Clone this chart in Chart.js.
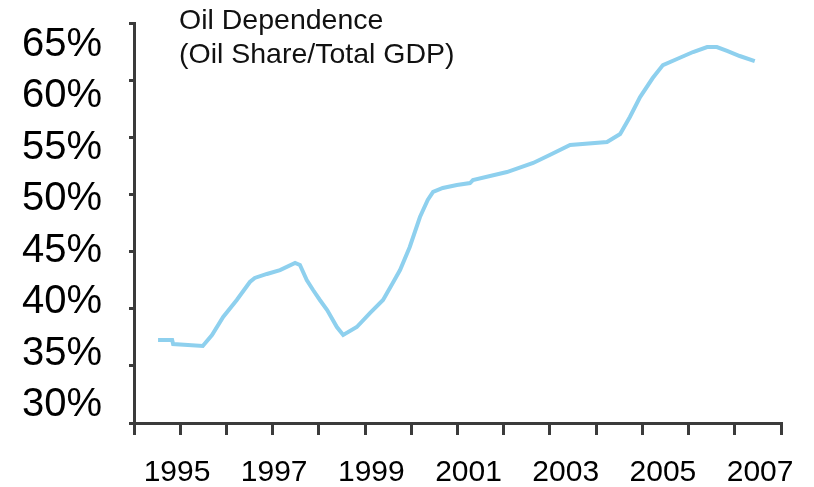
<!DOCTYPE html>
<html>
<head>
<meta charset="utf-8">
<script src="https://cdn.jsdelivr.net/npm/chart.js@4.4.1/dist/chart.umd.min.js"></script>
<style>
  html, body { margin: 0; padding: 0; background: #ffffff; }
  #wrap { width: 814px; height: 487px; }
</style>
</head>
<body>
<div id="wrap"><canvas id="chart"></canvas></div>
<script>
// Oil share of GDP, read along the labelled axes
const years = [1994.61, 1994.90, 1994.92, 1995.53, 1995.72, 1995.95, 1996.23, 1996.50, 1996.60, 1996.85,
  1997.12, 1997.43, 1997.53, 1997.67, 1997.80, 1997.94, 1998.09, 1998.29, 1998.42, 1998.70,
  1998.97, 1999.24, 1999.44, 1999.59, 1999.79, 2000.00, 2000.16, 2000.27, 2000.47, 2000.76,
  2001.03, 2001.09, 2001.79, 2002.33, 2002.67, 2003.09, 2003.85, 2004.12, 2004.32, 2004.53,
  2004.79, 2005.00, 2005.29, 2005.62, 2005.91, 2006.11, 2006.32, 2006.58, 2006.89];
const oilShare = [36.32, 36.32, 35.93, 35.74, 36.81, 38.56, 40.21, 41.96, 42.35, 42.74,
  43.12, 43.81, 43.61, 42.15, 41.18, 40.21, 39.24, 37.58, 36.81, 37.58,
  38.94, 40.21, 41.86, 43.12, 45.36, 48.28, 49.93, 50.71, 51.10, 51.39,
  51.58, 51.87, 52.65, 53.53, 54.31, 55.28, 55.57, 56.35, 58.00, 59.94,
  61.79, 63.05, 63.64, 64.32, 64.80, 64.80, 64.42, 63.93, 63.44];

// tick labels
const yTickLabels = [30, 35, 40, 45, 50, 55, 60, 65];
const xTickLabels = [1995, 1997, 1999, 2001, 2003, 2005, 2007];
// tick marks drawn along the axis lines
const yTickMarks = [30, 35, 40, 45, 50, 55, 60, 65];
const xTickMarks = [1994, 1995, 1996, 1997, 1998, 1999, 2000, 2001, 2002, 2003, 2004, 2005, 2006, 2007, 2008];

const titleLines = ['Oil Dependence', '(Oil Share/Total GDP)'];

const axisColor = '#3b3b3b';
const lineColor = '#8ed0ee';
const fontFamily = '"Liberation Sans", Arial, sans-serif';

const setTicks = values => scale => { scale.ticks = values.map(v => ({ value: v })); };

// fixed axis size, and no extra room reserved for the end labels
const fixSize = (key, size) => scale => {
  scale[key] = size;
  scale.paddingTop = 0;
  scale.paddingBottom = 0;
  scale.paddingLeft = 0;
  scale.paddingRight = 0;
};

const titleText = {
  id: 'titleText',
  afterDraw(chart) {
    const ctx = chart.ctx;
    ctx.save();
    ctx.font = '28.5px ' + fontFamily;
    ctx.fillStyle = '#111111';
    ctx.textAlign = 'left';
    ctx.textBaseline = 'middle';
    ctx.fillText(titleLines[0], 179, 21);
    ctx.fillText(titleLines[1], 179, 55);
    ctx.restore();
  }
};

new Chart(document.getElementById('chart'), {
  type: 'line',
  data: {
    datasets: [{
      data: years.map((x, i) => ({ x: x, y: oilShare[i] })),
      borderColor: lineColor,
      borderWidth: 4,
      pointRadius: 0,
      tension: 0,
      fill: false,
      xAxisID: 'x',
      yAxisID: 'y'
    }]
  },
  options: {
    responsive: true,
    maintainAspectRatio: false,
    animation: false,
    layout: { padding: { top: 23, right: 33, left: 0, bottom: 0 } },
    plugins: {
      legend: { display: false },
      tooltip: { enabled: false }
    },
    scales: {
      x: {
        type: 'linear',
        position: 'bottom',
        weight: 1,
        min: 1994.115,
        max: 2007.43,
        afterBuildTicks: setTicks(xTickLabels),
        afterFit: fixSize('height', 52),
        grid: { display: false, drawTicks: false },
        border: { display: false },
        ticks: {
          autoSkip: false,
          maxRotation: 0,
          padding: 20,
          color: '#000000',
          font: { family: fontFamily, size: 30 },
          callback: v => String(v)
        }
      },
      xt: {
        type: 'linear',
        position: 'bottom',
        weight: 0,
        min: 1994,
        max: 2008,
        afterBuildTicks: setTicks(xTickMarks),
        afterFit: fixSize('height', 12),
        grid: { drawOnChartArea: false, drawTicks: true, tickLength: 12, color: axisColor, lineWidth: 3 },
        border: { display: true, color: axisColor, width: 3 },
        ticks: { display: false }
      },
      y: {
        type: 'linear',
        position: 'left',
        weight: 1,
        min: 28.25,
        max: 67.14,
        afterBuildTicks: setTicks(yTickLabels),
        afterFit: fixSize('width', 129),
        grid: { display: false, drawTicks: false },
        border: { display: false },
        ticks: {
          padding: 27,
          color: '#000000',
          font: { family: fontFamily, size: 40 },
          callback: v => v + '%'
        }
      },
      yt: {
        type: 'linear',
        position: 'left',
        weight: 0,
        min: 30,
        max: 65,
        afterBuildTicks: setTicks(yTickMarks),
        afterFit: fixSize('width', 5),
        grid: { drawOnChartArea: false, drawTicks: true, tickLength: 5, color: axisColor, lineWidth: 3 },
        border: { display: true, color: axisColor, width: 3 },
        ticks: { display: false }
      }
    }
  },
  plugins: [titleText]
});
</script>
</body>
</html>
